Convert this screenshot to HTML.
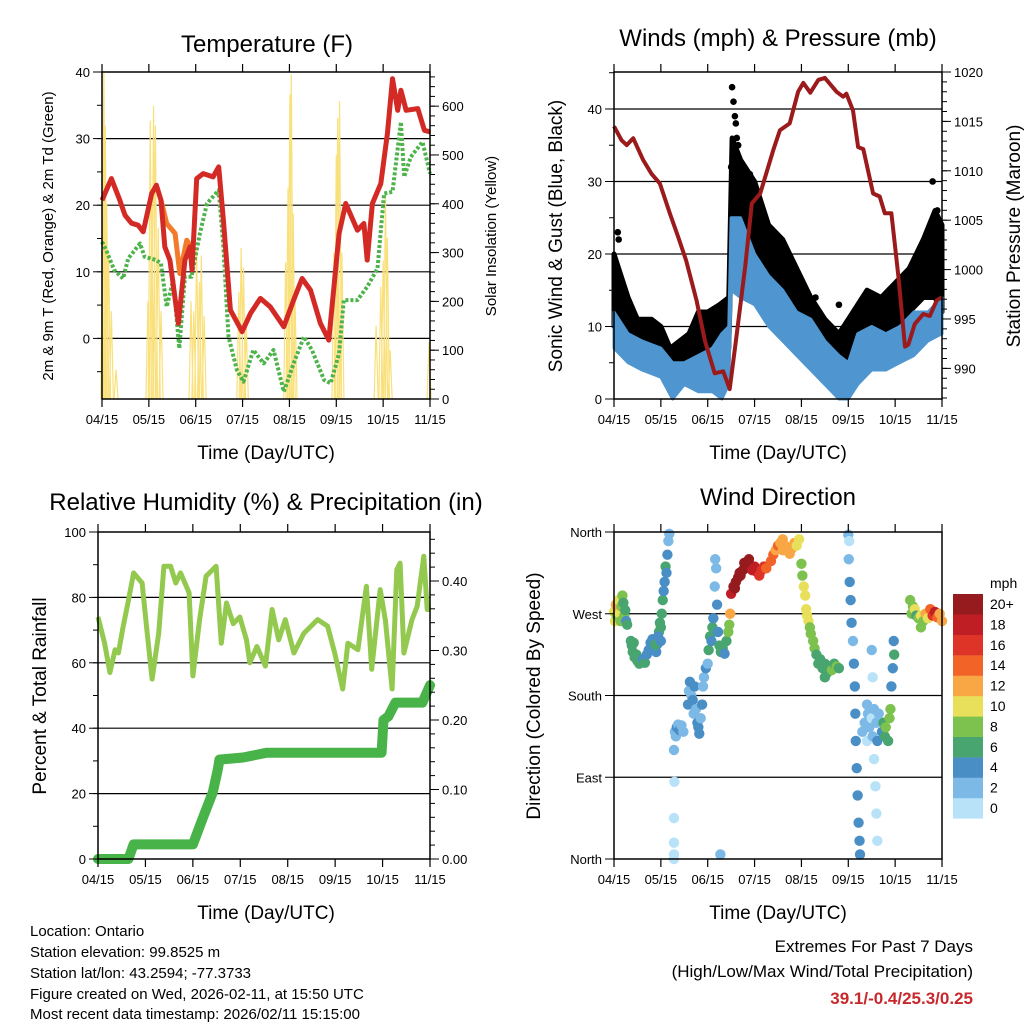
<!DOCTYPE html>
<html><head><meta charset="utf-8"><style>
body{margin:0;background:#fff;}
svg{display:block;font-family:"Liberation Sans",sans-serif;}
</style></head><body>
<svg id="s" width="1024" height="1024" viewBox="0 0 1024 1024" xmlns="http://www.w3.org/2000/svg">
<text x="267" y="52" font-size="24" text-anchor="middle">Temperature (F)</text>
<text x="778" y="46" font-size="24" text-anchor="middle">Winds (mph) &amp; Pressure (mb)</text>
<text x="266" y="510" font-size="24" text-anchor="middle">Relative Humidity (%) &amp; Precipitation (in)</text>
<text x="778" y="505" font-size="24" text-anchor="middle">Wind Direction</text>
<text transform="translate(53,236) rotate(-90)" font-size="15" text-anchor="middle">2m &amp; 9m T (Red, Orange) &amp; 2m Td (Green)</text>
<text transform="translate(496,236) rotate(-90)" font-size="15" text-anchor="middle">Solar Insolation (Yellow)</text>
<text transform="translate(562,236) rotate(-90)" font-size="19" text-anchor="middle">Sonic Wind &amp; Gust (Blue, Black)</text>
<text transform="translate(1020,236) rotate(-90)" font-size="19" text-anchor="middle">Station Pressure (Maroon)</text>
<text transform="translate(46,696) rotate(-90)" font-size="19" text-anchor="middle">Percent &amp; Total Rainfall</text>
<text transform="translate(540,696) rotate(-90)" font-size="19" text-anchor="middle">Direction (Colored By Speed)</text>
<text x="266" y="459" font-size="19" text-anchor="middle">Time (Day/UTC)</text>
<text x="778" y="459" font-size="19" text-anchor="middle">Time (Day/UTC)</text>
<text x="266" y="919" font-size="19" text-anchor="middle">Time (Day/UTC)</text>
<text x="778" y="919" font-size="19" text-anchor="middle">Time (Day/UTC)</text>
<g font-size="15">
<text x="30" y="936">Location: Ontario</text>
<text x="30" y="957">Station elevation: 99.8525 m</text>
<text x="30" y="978">Station lat/lon: 43.2594; -77.3733</text>
<text x="30" y="999">Figure created on Wed, 2026-02-11, at 15:50 UTC</text>
<text x="30" y="1019">Most recent data timestamp: 2026/02/11 15:15:00</text>
</g>
<g text-anchor="end">
<text x="973" y="952" font-size="17">Extremes For Past 7 Days</text>
<text x="973" y="977" font-size="17">(High/Low/Max Wind/Total Precipitation)</text>
<text x="973" y="1004" font-size="17" font-weight="bold" fill="#c8282c">39.1/-0.4/25.3/0.25</text>
</g>
</svg>
<script>
const monthLabels=["04/15","05/15","06/15","07/15","08/15","09/15","10/15","11/15"];
const redT=[0,0.2,0.38,0.49,0.63,0.77,0.88,1.06,1.16,1.26,1.34,1.45,1.63,1.77,1.88,1.92,2.02,2.16,2.37,2.49,2.59,2.74,2.99,3.17,3.38,3.59,3.88,4.09,4.27,4.45,4.66,4.84,5.06,5.2,5.45,5.59,5.66,5.77,5.95,6.09,6.2,6.31,6.38,6.49,6.74,6.88,7.0];
const redV=[20.75,24,20.75,18.5,17.3,17,16,21.75,23,20.75,13.75,11.75,2.25,11.75,13.75,10.25,24,24.75,24.25,25.75,17.75,4.25,1,3.75,6,4.75,1.75,5.75,9,7.25,2.25,-0.25,15.75,20.25,16.25,17.25,11.75,20.25,23.25,30.75,39,34.25,37.25,34.25,34.5,31.25,31];
const orangeT=[1.26,1.38,1.56,1.66,1.81,1.92];
const orangeV=[20.75,17.25,15.75,9.75,14.75,13.5];
const tdT=[0,0.09,0.26,0.45,0.56,0.81,0.91,1.16,1.26,1.38,1.52,1.65,1.77,1.91,2.09,2.24,2.49,2.59,2.7,2.88,3.02,3.23,3.45,3.66,3.88,4.09,4.31,4.48,4.74,4.88,5.06,5.16,5.45,5.66,5.88,6.02,6.2,6.38,6.45,6.59,6.84,7.0];
const tdV=[14.5,13.25,10.25,9,12,14.25,12.25,11.75,11.25,4.75,8.75,-1.5,9.25,9.25,15.75,20.25,22.25,13.75,0.25,-4.75,-6.5,-1.75,-3.75,-1.75,-8,-3.75,0.25,-1.75,-6.25,-6.75,-2.25,5.75,5.75,7.75,10.5,21.75,22,32.5,24.25,27.25,29.5,24.75];
const solarT=[0.02,0.04,0.07,0.1,0.14,0.2,0.3,0.98,1.03,1.06,1.1,1.14,1.2,1.26,1.9,1.96,2.02,2.08,2.12,2.18,2.92,2.97,3.02,3.08,3.92,3.97,4.01,4.04,4.08,4.12,4.95,5.0,5.03,5.07,5.12,5.85,5.95,6.0,6.05,6.09,6.15,6.98];
const solarV=[480,668,560,400,300,180,60,200,570,420,600,560,350,180,200,180,310,240,294,170,220,310,270,150,280,433,624,665,380,200,300,500,576,610,300,150,230,284,420,330,100,117];
const gustT=[0,0.15,0.3,0.5,0.8,1.0,1.2,1.4,1.6,1.8,2.0,2.25,2.45,2.52,2.7,3.0,3.3,3.6,3.9,4.2,4.5,4.8,5.1,5.4,5.7,6.0,6.3,6.6,6.85,7.0];
const gustHi=[20,17,14,11,11,10,7,8,9,12,12,13,14,36,33,30,24,22,18,14,11,9,12,15,14,16,18,22,26,24];
const gustLo=[10,10,8,7,6,5,3,3,4,5,6,6,7,25,22,18,15,12,10,8,6,4,6,8,9,10,12,14,14,12];
const windT=[0,0.3,0.6,1.0,1.25,1.5,1.8,2.1,2.3,2.45,2.5,2.7,3.0,3.3,3.6,3.9,4.2,4.5,4.8,5.0,5.2,5.5,5.8,6.1,6.4,6.7,7.0];
const windHi=[12,9,8,7,5,5,6,7,9,10,25,25,20,17,15,12,11,8,6,5,9,10,9,10,12,12,14];
const windLo=[7,5,4,3,0,2,1,1,0,2,15,14,13,10,8,6,4,2,0,0,2,4,4,5,6,8,9];
const gustDotT=[2.52,2.55,2.5,2.6,2.65,3.2,3.6,3.8,4.3,4.8,5.5,6.8,6.9,6.95,0.08,0.1,3.05,2.58,2.62,2.9];
const gustDotV=[43,41,32,38,35,25,20,19,14,13,13,30,26,24,23,22,27,39,36,31];
const presT=[0,0.16,0.27,0.41,0.62,0.8,0.98,1.19,1.37,1.54,1.76,1.94,2.15,2.33,2.47,2.62,2.8,2.94,3.12,3.4,3.54,3.75,3.93,4.04,4.19,4.36,4.5,4.75,4.89,4.96,5.1,5.21,5.32,5.53,5.67,5.78,5.92,6.07,6.21,6.28,6.42,6.6,6.74,6.89,7.0];
const presV=[1014.5,1013.1,1012.6,1013.3,1011.1,1009.7,1008.7,1005.7,1003.3,1000.9,996.9,992.8,989.5,989.7,987.9,993.5,1000.3,1006.7,1007.7,1012.1,1014.1,1014.8,1018,1018.9,1017.9,1019.2,1019.4,1018,1017.5,1017.8,1016.1,1012.4,1012.2,1007.7,1007.4,1005.7,1005.7,999.3,992.2,992.4,994.5,995.5,995.3,996.9,997.2];
const rhT=[0,0.14,0.25,0.36,0.43,0.53,0.64,0.75,0.93,1.03,1.14,1.28,1.39,1.53,1.64,1.74,1.92,2.0,2.14,2.28,2.49,2.6,2.71,2.85,2.99,3.13,3.2,3.35,3.53,3.67,3.81,3.95,4.13,4.34,4.63,4.84,4.99,5.16,5.27,5.48,5.66,5.77,5.95,6.06,6.2,6.3,6.37,6.45,6.62,6.73,6.87,6.94,7.0];
const rhV=[74,66,57,64,63,71,79,87.5,84.4,70,55,69,89.5,89.5,84.4,87.5,81.4,56,73,86.5,89.5,66,78.3,72,74,67,60,65,59,76.3,67,73.2,63,69,73.2,71.2,63,52,66,64,83.4,58,82.4,73,52,88.5,90.5,63,73.2,77.3,92.6,76.3,76.3];
const prT=[0,0.64,0.75,2.0,2.2,2.42,2.53,2.56,3.06,3.56,5.98,6.02,6.12,6.27,6.84,7.0];
const prV=[0,0,0.021,0.021,0.057,0.096,0.13,0.143,0.146,0.153,0.153,0.2,0.205,0.225,0.225,0.25];
const wdT=[0,0.02,0.04,0.06,0.08,0.1,0.12,0.14,0.16,0.18,0.2,0.22,0.24,0.26,0.28,0.36,0.38,0.4,0.42,0.44,0.48,0.5,0.54,0.58,0.62,0.66,0.7,0.74,0.78,0.82,0.85,0.9,0.92,0.96,0.98,1.0,1.02,1.04,1.06,1.08,1.1,1.12,1.14,1.16,1.18,0.88,0.94,1.0,1.28,1.28,1.28,1.28,1.29,1.28,1.3,1.32,1.34,1.37,1.4,1.44,1.48,1.58,1.6,1.62,1.65,1.68,1.7,1.72,1.75,1.78,1.8,1.82,1.85,1.88,1.9,1.92,1.96,2.0,2.02,2.05,2.08,2.1,2.12,2.15,2.18,2.16,2.2,2.22,2.25,2.28,2.32,2.36,2.4,2.44,2.46,2.48,2.27,2.5,2.55,2.6,2.65,2.7,2.75,2.8,2.85,2.9,2.95,3.0,3.05,3.1,3.15,3.2,3.25,2.58,2.68,2.78,2.88,3.35,3.4,3.45,3.5,3.55,3.6,3.65,3.7,3.75,3.8,3.85,3.9,3.95,3.6,4.0,4.02,4.05,4.08,4.1,4.12,4.15,4.18,4.2,4.25,4.28,4.32,4.36,4.4,4.45,4.5,4.55,4.6,4.65,4.7,4.75,4.8,4.5,5.0,5.01,5.03,5.05,5.07,5.1,5.12,5.14,5.15,5.16,5.18,5.2,5.22,5.24,5.25,5.02,5.3,5.35,5.4,5.42,5.45,5.5,5.52,5.55,5.6,5.62,5.55,5.58,5.6,5.62,5.5,5.52,5.65,5.4,5.72,5.75,5.78,5.8,5.85,5.88,5.9,5.92,5.95,5.98,5.97,6.32,6.35,6.38,6.42,6.45,6.5,6.55,6.6,6.65,6.7,6.75,6.8,6.85,6.9,6.95,7.0,6.55];
const wdD=[272,262,280,268,275,285,270,262,278,290,282,268,274,262,258,240,235,228,238,222,225,218,215,217,220,216,225,230,238,242,240,228,236,250,260,255,270,285,295,305,322,315,335,350,358,236,245,240,0,5,18,45,85,120,140,135,145,148,142,147,140,170,185,195,180,175,160,190,165,150,145,138,155,170,190,200,210,215,230,245,240,255,265,300,320,330,280,250,235,228,232,226,240,250,258,270,5,292,300,305,310,312,318,322,325,320,318,322,316,312,318,322,320,298,315,326,330,328,335,340,345,348,352,345,340,336,342,348,345,352,340,325,312,300,290,275,268,262,255,248,240,232,225,215,220,210,215,205,212,208,215,212,210,200,357,330,305,285,260,240,215,190,160,130,100,70,40,20,5,350,140,150,130,160,145,155,135,165,150,130,110,80,50,20,230,200,160,170,140,150,135,145,130,155,165,190,210,225,240,285,270,278,275,268,265,268,262,270,265,275,268,272,266,270,262,255];
const wdS=[10,11,12,9,12,11,10,8,9,8,7,8,6,5,6,7,6,7,6,6,7,6,6,6,5,6,4,4,5,4,4,4,5,6,6,6,7,6,5,4,6,5,4,3,2,6,5,4,0,1,1,1,1,2,3,3,4,3,4,3,3,4,3,4,3,4,3,4,3,4,5,4,3,4,2,3,4,3,6,6,5,6,4,2,2,2,4,5,6,6,6,5,6,8,9,12,2,18,20,20,20,20,20,20,20,20,18,18,18,16,16,16,15,20,20,20,20,15,14,13,14,12,12,12,13,12,12,12,11,10,13,9,9,10,10,10,10,11,9,8,8,8,7,6,7,6,7,6,7,8,7,8,7,6,2,2,4,4,4,3,4,4,4,4,4,4,4,4,4,1,2,2,1,3,2,1,2,3,2,4,1,1,1,1,2,1,3,3,5,7,7,8,6,8,8,4,4,6,4,8,9,8,10,7,8,10,8,12,10,14,16,18,14,12,12,8];
const speedColors=["#b8e2f8","#7cb9e6","#4a8ec6","#48a56f","#7dc14e","#e8e05a","#f9a745","#f26328","#de3428","#bf1e24","#951b1e"];
const speedLabels=["0","2","4","6","8","10","12","14","16","18","20+"];

const NS="http://www.w3.org/2000/svg";
const svg=document.getElementById('s');
function mk(tag,attrs,parent){const e=document.createElementNS(NS,tag);for(const k in attrs)e.setAttribute(k,attrs[k]);(parent||svg).appendChild(e);return e;}
function scale(d0,d1,r0,r1){return v=>r0+(v-d0)*(r1-r0)/(d1-d0);}

function frame(P,g){
  mk('rect',{x:P.x0,y:P.y0,width:P.x1-P.x0,height:P.y1-P.y0,fill:'none',stroke:'#000','stroke-width':1.5},g);
  for(let i=0;i<8;i++){const x=P.x(i);
    mk('line',{x1:x,x2:x,y1:P.y1,y2:P.y1+8,stroke:'#000','stroke-width':1.2},g);
    mk('line',{x1:x,x2:x,y1:P.y0,y2:P.y0-8,stroke:'#000','stroke-width':1.2},g);
    const t=mk('text',{x:x,y:P.y1+25,'font-size':13,'text-anchor':'middle'},g);t.textContent=monthLabels[i];
    
    
  }
}
function grid(P,vals,g){vals.forEach(v=>{const y=P.yl(v);mk('line',{x1:P.x0,x2:P.x1,y1:y,y2:y,stroke:'#000','stroke-width':1.2},g);});}
function leftTicks(P,major,minor,fmt,g){
  minor.forEach(v=>{const y=P.yl(v);mk('line',{x1:P.x0-5,x2:P.x0,y1:y,y2:y,stroke:'#000'},g);});
  major.forEach(v=>{const y=P.yl(v);mk('line',{x1:P.x0-9,x2:P.x0,y1:y,y2:y,stroke:'#000'},g);
    const t=mk('text',{x:P.x0-12,y:y+5,'font-size':13,'text-anchor':'end'},g);t.textContent=fmt(v);
    
    });
}
function rightTicks(P,major,minor,fmt,g){
  minor.forEach(v=>{const y=P.yr(v);mk('line',{x1:P.x1,x2:P.x1+5,y1:y,y2:y,stroke:'#000'},g);});
  major.forEach(v=>{const y=P.yr(v);mk('line',{x1:P.x1,x2:P.x1+9,y1:y,y2:y,stroke:'#000'},g);
    const t=mk('text',{x:P.x1+12,y:y+5,'font-size':13},g);t.textContent=fmt(v);
    
    });
}
function pathOf(T,V,xs,ys){return T.map((t,i)=>(i?'L':'M')+xs(t).toFixed(1)+','+ys(V[i]).toFixed(1)).join('');}
function band(T,lo,hi,xs,ys){let d=T.map((t,i)=>(i?'L':'M')+xs(t).toFixed(1)+','+ys(hi[i]).toFixed(1)).join('');
  for(let i=T.length-1;i>=0;i--)d+='L'+xs(T[i]).toFixed(1)+','+ys(lo[i]).toFixed(1);return d+'Z';}
function range(a,b,s){const r=[];for(let v=a;v<=b+1e-9;v+=s)r.push(+v.toFixed(4));return r;}

{const P={x0:102,x1:430,y0:72,y1:399};P.x=scale(0,7,P.x0,P.x1);P.yl=scale(-9.1,40,P.y1,P.y0);P.yr=scale(0,670,P.y1,P.y0);
 const g=mk('g',{});
 grid(P,[0,10,20,30],g);
 solarT.forEach((t,i)=>{const x=P.x(t);const s=mk('path',{d:'M'+(x-2)+','+P.y1+'L'+x+','+P.yr(solarV[i])+'L'+(x+2)+','+P.y1,fill:'none',stroke:'#f9e07a','stroke-width':1.2},g);
   
   });
 const td=mk('path',{d:pathOf(tdT,tdV,P.x,P.yl),fill:'none',stroke:'#4db34a','stroke-width':4,'stroke-dasharray':'3 2','stroke-linejoin':'round'},g);
 
 
 const or=mk('path',{d:pathOf(orangeT,orangeV,P.x,P.yl),fill:'none',stroke:'#f27a2a','stroke-width':5,'stroke-linejoin':'round'},g);
 
 
 const rd=mk('path',{d:pathOf(redT,redV,P.x,P.yl),fill:'none',stroke:'#d42a26','stroke-width':5,'stroke-linejoin':'round'},g);
 
 
 frame(P,g);leftTicks(P,[0,10,20,30,40],range(-5,40,5),v=>v,g);rightTicks(P,[0,100,200,300,400,500,600],range(0,660,20),v=>v,g);}

{const P={x0:614,x1:942,y0:72,y1:399};P.x=scale(0,7,P.x0,P.x1);P.yl=scale(0,45.1,P.y1,P.y0);P.yr=scale(986.9,1020,P.y1,P.y0);
 const g=mk('g',{});
 grid(P,[10,20,30,40],g);
 const gb=mk('path',{d:band(gustT,gustLo,gustHi,P.x,P.yl),fill:'#000',stroke:'#000','stroke-width':5,'stroke-linejoin':'round'},g);
 
 
 gustDotT.forEach((t,i)=>{const c=mk('circle',{cx:P.x(t),cy:P.yl(gustDotV[i]),r:3.3,fill:'#000'},g);
   
   });
 const wb=mk('path',{d:band(windT,windLo,windHi,P.x,P.yl),fill:'#4f96d0',stroke:'#4f96d0','stroke-width':3,'stroke-linejoin':'round'},g);
 
 
 const pr=mk('path',{d:pathOf(presT,presV,P.x,P.yr),fill:'none',stroke:'#9b1a1c','stroke-width':4,'stroke-linejoin':'round'},g);
 
 
 frame(P,g);leftTicks(P,[0,10,20,30,40],range(5,45,5),v=>v,g);rightTicks(P,[990,995,1000,1005,1010,1015,1020],range(987,1020,1),v=>v,g);}

{const P={x0:98,x1:430,y0:532,y1:859};P.x=scale(0,7,P.x0,P.x1);P.yl=scale(0,100,P.y1,P.y0);P.yr=scale(0,0.4705,P.y1,P.y0);
 const g=mk('g',{});
 grid(P,[20,40,60,80],g);
 const rh=mk('path',{d:pathOf(rhT,rhV,P.x,P.yl),fill:'none',stroke:'#93c94f','stroke-width':5,'stroke-linejoin':'round'},g);
 
 
 const pc=mk('path',{d:pathOf(prT,prV,P.x,P.yr),fill:'none',stroke:'#48b348','stroke-width':10,'stroke-linejoin':'round','stroke-linecap':'round'},g);
 
 
 frame(P,g);leftTicks(P,[0,20,40,60,80,100],range(0,100,10),v=>v,g);rightTicks(P,[0,0.1,0.2,0.3,0.4],range(0,0.46,0.02),v=>v.toFixed(2),g);}

{const P={x0:614,x1:942,y0:532,y1:859};P.x=scale(0,7,P.x0,P.x1);P.yl=scale(0,360,P.y1,P.y0);
 const g=mk('g',{});
 grid(P,[90,180,270],g);
 wdT.forEach((t,i)=>{const ci=Math.max(0,Math.min(10,Math.floor(wdS[i]/2)));
   const c=mk('circle',{cx:P.x(t),cy:P.yl(wdD[i]),r:5.2,fill:speedColors[ci]},g);
   
   });
 frame(P,g);
 const dirNames=["North","East","South","West","North"];
 leftTicks(P,[0,90,180,270,360],[],v=>dirNames[v/90],g);
 const lg=mk('g',{});
 const mt=mk('text',{x:990,y:588,'font-size':14},lg);mt.textContent='mph';
 
 
 for(let k=0;k<11;k++){const y=594+(10-k)*20.4;
   const r=mk('rect',{x:953,y:y,width:30,height:20.6,fill:speedColors[k]},lg);
   
   
   const t=mk('text',{x:990,y:y+15,'font-size':14},lg);t.textContent=speedLabels[k];
   
   }
}
</script>
</body></html>
